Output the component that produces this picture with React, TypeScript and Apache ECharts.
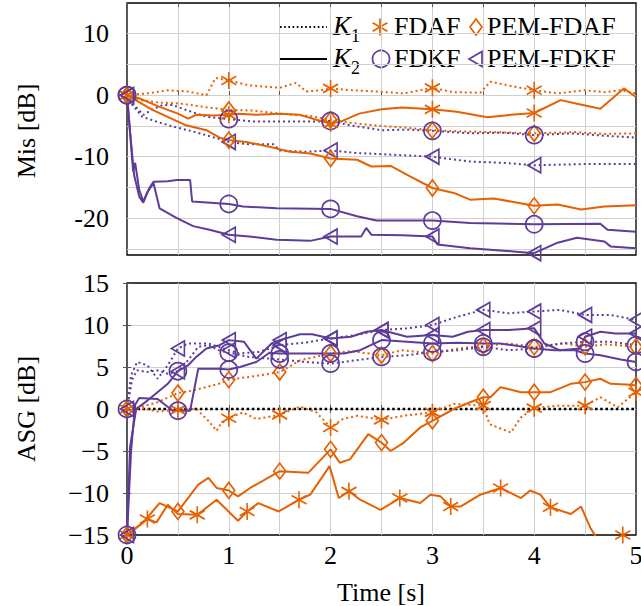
import React, { useEffect, useRef } from 'react';
import * as echarts from 'echarts';

type Pt = [number, number];

const ORANGE = '#e66101';
const PURPLE = '#5e3c99';
const GRID = '#d0d0d0';
const FONT = '"Liberation Serif", "Times New Roman", serif';

const xTickLabels = [0, 1, 2, 3, 4, 5];
const misTickLabels = [-20, -10, 0, 10];
const asgTickLabels = [-15, -10, -5, 0, 5, 10, 15];

const topMarkTimes = [0, 1, 2, 3, 4];
const halfMarkTimes = [0, 0.5, 1, 1.5, 2, 2.5, 3, 3.5, 4, 4.5, 5];
const asgFdafK2MarkTimes = [0, 0.2, 0.69, 1.18, 1.69, 2.18, 2.68, 3.18, 3.67, 4.16, 4.87];

// ---------------- Mis [dB] (top) ----------------
const misFdafK1: Pt[] = [[0,0],[0.2,0.3],[0.4,0.8],[0.6,0.6],[0.78,0.0],[0.87,2.8],[1.0,2.4],[1.2,1.6],[1.5,1.2],[1.66,2.0],[1.76,0.6],[1.9,0.8],[2.0,1.1],[2.2,0.8],[2.45,0.6],[2.72,0.3],[3.0,1.2],[3.2,0.5],[3.47,0.4],[3.57,2.2],[3.77,1.5],[4.0,0.8],[4.23,0.3],[4.49,0.8],[4.69,0.5],[4.85,0.8],[5.0,0.3]];
const misFdafK2: Pt[] = [[0,0],[0.12,-0.5],[0.32,-1.9],[0.5,-3.0],[0.6,-3.8],[0.68,-3.2],[0.85,-3.3],[1.0,-3.2],[1.1,-3.0],[1.27,-3.2],[1.5,-3.0],[1.7,-3.2],[1.86,-4.0],[2.0,-4.6],[2.1,-4.3],[2.28,-3.0],[2.5,-2.3],[2.7,-2.0],[3.0,-2.3],[3.24,-2.7],[3.54,-3.6],[3.77,-3.2],[4.0,-2.9],[4.26,-0.8],[4.42,-1.4],[4.65,-2.2],[4.88,1.1],[5.0,-0.3]];
const misPemFdafK1: Pt[] = [[0,0],[0.12,-0.8],[0.32,-1.2],[0.52,-1.35],[0.75,-1.9],[1.0,-2.4],[1.24,-2.5],[1.5,-3.0],[1.8,-3.4],[2.0,-4.0],[2.2,-4.5],[2.5,-5.0],[2.75,-5.3],[3.0,-5.7],[3.3,-5.9],[3.6,-6.0],[4.0,-6.2],[4.4,-6.0],[4.7,-6.3],[5.0,-6.2]];
const misPemFdafK2: Pt[] = [[0,0],[0.25,-2.4],[0.58,-4.9],[0.78,-5.7],[0.91,-6.9],[1.0,-7.3],[1.17,-7.6],[1.4,-8.4],[1.6,-9.2],[1.8,-9.5],[2.0,-10.3],[2.26,-10.5],[2.4,-11.6],[2.59,-11.5],[2.78,-13.2],[3.0,-15.1],[3.21,-15.9],[3.37,-17.0],[3.6,-16.8],[3.77,-17.3],[4.0,-18.0],[4.23,-17.8],[4.46,-18.6],[4.69,-18.1],[5.0,-17.9]];
const misFdkfK1: Pt[] = [[0,0],[0.06,-1.4],[0.16,-3.2],[0.25,-2.3],[0.35,-1.6],[0.45,-1.6],[0.58,-2.4],[0.78,-3.5],[1.0,-3.9],[1.24,-4.3],[1.53,-4.3],[1.86,-4.3],[2.0,-4.2],[2.19,-4.9],[2.5,-5.7],[2.75,-5.6],[3.0,-5.8],[3.37,-6.2],[3.7,-6.1],[4.0,-6.5],[4.36,-6.2],[4.7,-6.6],[5.0,-6.9]];
const misFdkfK2: Pt[] = [[0,0],[0.03,-6],[0.06,-12.4],[0.08,-11],[0.12,-15.4],[0.16,-17.3],[0.19,-16.2],[0.22,-15.1],[0.26,-14.1],[0.4,-14.0],[0.49,-13.8],[0.62,-13.8],[0.64,-17.3],[1.0,-17.7],[1.14,-18.1],[1.47,-18.4],[2.0,-18.5],[2.26,-19.7],[2.45,-20.4],[3.0,-20.4],[3.37,-20.8],[4.0,-21.0],[4.65,-20.9],[4.72,-21.9],[5.0,-22.2]];
const misPemFdkfK1: Pt[] = [[0,0],[0.05,-1.5],[0.15,-3.5],[0.29,-4.3],[0.45,-5.1],[0.65,-5.9],[0.84,-6.8],[1.0,-7.6],[1.2,-8.0],[1.44,-8.0],[1.5,-9.0],[1.75,-9.2],[2.0,-9.0],[2.25,-9.4],[2.5,-9.6],[2.75,-9.8],[3.0,-10.0],[3.37,-10.8],[3.7,-11.0],[4.0,-11.4],[4.5,-11.2],[5.0,-11.2]];
const misPemFdkfK2: Pt[] = [[0,0],[0.03,-6],[0.07,-13],[0.12,-16.5],[0.16,-17.5],[0.2,-15.8],[0.26,-14.3],[0.32,-18.4],[0.49,-20.0],[0.65,-21.3],[0.81,-21.9],[1.0,-22.7],[1.2,-23.0],[1.47,-23.5],[1.8,-23.7],[2.0,-23.0],[2.3,-23.0],[2.35,-21.6],[2.4,-22.7],[2.7,-22.8],[3.0,-23.0],[3.05,-24.3],[3.37,-24.9],[3.77,-25.4],[4.0,-25.7],[4.23,-24.0],[4.42,-23.2],[4.69,-23.8],[4.75,-24.6],[5.0,-24.9]];

// ---------------- ASG [dB] (bottom) ----------------
const asgFdafK1: Pt[] = [[0,0],[0.15,0.1],[0.3,-0.3],[0.5,-0.1],[0.68,0.0],[0.8,-1.4],[0.88,-2.6],[0.92,-1.8],[1.0,-1.1],[1.14,-0.4],[1.27,-1.2],[1.5,-0.7],[1.7,0.3],[1.86,-0.4],[2.0,-2.2],[2.12,-1.2],[2.26,-0.8],[2.5,-1.3],[2.72,-0.8],[3.0,-0.4],[3.21,0.6],[3.5,0.4],[3.56,-1.8],[3.77,-2.8],[3.87,-1.0],[4.0,0.1],[4.23,0.4],[4.5,0.4],[4.65,1.4],[4.82,0.2],[5.0,2.0]];
const asgFdafK2: Pt[] = [[0,-15],[0.2,-13.1],[0.29,-13.5],[0.4,-11.4],[0.5,-12.5],[0.69,-12.6],[0.88,-10.8],[1.09,-13.3],[1.18,-12.2],[1.29,-11.2],[1.49,-12.2],[1.69,-10.8],[1.8,-10.2],[1.99,-6.8],[2.08,-10.6],[2.18,-9.8],[2.29,-10.8],[2.49,-12.0],[2.68,-10.6],[2.88,-11.2],[2.98,-10.2],[3.08,-10.4],[3.18,-11.6],[3.28,-11.6],[3.47,-10.2],[3.67,-9.4],[3.87,-10.6],[3.96,-9.7],[4.06,-10.2],[4.16,-11.7],[4.36,-12.5],[4.46,-11.6],[4.55,-14.1],[4.62,-15.5],[4.75,-16.5],[4.87,-15.0],[5.0,-16.0]];
const asgPemFdafK1: Pt[] = [[0,0],[0.12,0.2],[0.3,0.8],[0.5,1.9],[0.65,2.2],[0.9,3.0],[1.0,3.5],[1.25,3.9],[1.5,4.4],[1.7,5.8],[2.0,6.6],[2.2,6.9],[2.5,6.4],[2.7,7.0],[3.0,6.6],[3.25,7.2],[3.5,7.5],[3.75,7.8],[4.0,7.4],[4.3,7.8],[4.5,7.4],[4.7,7.7],[5.0,7.4]];
const asgPemFdafK2: Pt[] = [[0,-15],[0.16,-13.5],[0.32,-11.2],[0.5,-12.2],[0.7,-9.0],[0.8,-8.2],[0.88,-9.4],[1.0,-9.7],[1.09,-10.4],[1.21,-9.4],[1.5,-7.4],[1.78,-7.6],[2.0,-4.8],[2.09,-6.4],[2.19,-6.0],[2.37,-3.0],[2.5,-4.0],[2.59,-5.0],[2.72,-4.0],[2.88,-2.2],[3.0,-1.4],[3.21,0.0],[3.37,0.8],[3.5,1.4],[3.57,1.4],[3.67,2.6],[3.87,2.0],[4.0,2.0],[4.16,2.0],[4.36,3.0],[4.5,3.2],[4.65,3.6],[4.75,3.0],[4.95,2.9],[5.0,2.8]];
const asgFdkfK1: Pt[] = [[0,0],[0.05,3.5],[0.1,4.6],[0.2,4.4],[0.3,4.6],[0.4,4.2],[0.5,4.5],[0.6,5.8],[0.7,7.4],[0.8,7.6],[0.9,7.0],[1.0,6.7],[1.2,6.2],[1.5,5.9],[1.75,5.6],[2.0,5.4],[2.25,5.8],[2.5,6.2],[2.75,6.4],[3.0,6.8],[3.25,7.0],[3.5,7.4],[3.75,7.0],[4.0,7.2],[4.25,7.8],[4.5,8.0],[4.75,8.0],[5.0,7.6]];
const asgFdkfK2: Pt[] = [[0,-15],[0.04,-5],[0.08,0.5],[0.12,1.3],[0.3,1.2],[0.45,-0.2],[0.5,-0.2],[0.62,-0.2],[0.7,4.8],[0.9,4.8],[1.0,4.7],[1.11,5.0],[1.27,5.6],[1.4,6.7],[1.5,6.6],[1.8,6.6],[2.0,6.6],[2.13,6.6],[2.29,7.0],[2.5,8.2],[2.75,8.0],[3.0,7.8],[3.25,7.9],[3.5,7.8],[3.67,7.8],[4.0,7.2],[4.2,7.0],[4.4,7.0],[4.5,6.6],[4.65,6.4],[4.85,5.9],[5.0,5.6]];
const asgPemFdkfK1: Pt[] = [[0,0],[0.04,4.0],[0.1,5.6],[0.2,5.2],[0.3,3.6],[0.4,5.2],[0.5,7.2],[0.6,7.8],[0.8,7.8],[0.9,7.4],[1.0,7.0],[1.1,6.6],[1.3,6.8],[1.5,7.6],[1.75,7.9],[2.0,8.4],[2.25,8.8],[2.5,9.4],[2.75,9.6],[3.0,10.0],[3.25,11.0],[3.5,11.8],[3.75,11.4],[4.0,11.6],[4.25,11.8],[4.5,11.2],[4.75,11.2],[5.0,10.6]];
const asgPemFdkfK2: Pt[] = [[0,-15],[0.03,-4.5],[0.09,0],[0.2,1.0],[0.3,2.0],[0.4,3.0],[0.5,4.5],[0.6,5.2],[0.68,6.2],[0.78,7.2],[0.91,7.6],[1.0,8.2],[1.15,8.0],[1.27,6.0],[1.42,7.8],[1.5,8.2],[1.7,8.9],[1.82,8.9],[2.0,8.4],[2.2,8.6],[2.35,9.2],[2.5,9.4],[2.75,8.6],[3.0,8.8],[3.2,8.6],[3.35,9.2],[3.5,9.4],[3.75,9.4],[4.0,9.6],[4.1,7.8],[4.25,7.0],[4.45,7.2],[4.5,8.6],[4.65,9.2],[4.8,9.0],[5.0,9.0]];
const asgZeroLine: Pt[] = [[0,0],[5,0]];

const SYM_ASTERISK = 'path://M0,-10L0,10M-8.66,-5L8.66,5M-8.66,5L8.66,-5';
const SYM_DIAMOND = 'path://M0,-10L7.5,0L0,10L-7.5,0Z';
const SYM_TRIANGLE = 'path://M-10,0L5,-8.66L5,8.66Z';

const SYMS: Record<string, { symbol: string; size: number | number[] }> = {
  FDAF: { symbol: SYM_ASTERISK, size: [15, 17] },
  'PEM-FDAF': { symbol: SYM_DIAMOND, size: [12, 16] },
  FDKF: { symbol: 'circle', size: 17 },
  'PEM-FDKF': { symbol: SYM_TRIANGLE, size: [13, 15] },
};

function mkSeries(name: string, algo: string, data: Pt[], marks: number[], color: string, dotted: boolean, panel: number) {
  const s = SYMS[algo];
  return {
    type: 'line',
    name,
    xAxisIndex: panel === 0 ? 0 : 2,
    yAxisIndex: panel === 0 ? 0 : 1,
    data: data.map((p) =>
      marks.some((m) => Math.abs(m - p[0]) < 1e-6) ? { value: p } : { value: p, symbol: 'none' }
    ),
    symbol: s.symbol,
    symbolSize: s.size,
    showSymbol: true,
    showAllSymbol: true,
    clip: true,
    silent: true,
    lineStyle: { color, width: 2, type: dotted ? [2, 3] : 'solid', cap: 'butt' },
    itemStyle: { color: 'rgba(0,0,0,0)', borderColor: color, borderWidth: 1.7 },
    emphasis: { disabled: true },
  };
}

const T = 'rgba(0,0,0,0)';

function txt(text: string, x: number, y: number, size = 26, extra: any = {}) {
  return {
    type: 'text',
    x,
    y,
    silent: true,
    ...extra,
    style: {
      text,
      fill: '#000',
      font: `${extra.italic ? 'italic ' : ''}${size}px ${FONT}`,
      textAlign: extra.align || 'left',
      align: extra.align || 'left',
      textVerticalAlign: 'middle',
      verticalAlign: 'middle',
    },
  };
}

export default function App() {
  const ref = useRef<HTMLDivElement>(null);
  useEffect(() => {
    document.body.style.margin = '0';
    if (!ref.current) return;
    const chart = echarts.init(ref.current, undefined, { renderer: 'svg' });

    const xBase = (gridIndex: number, labels: boolean, top: boolean) => ({
      type: 'value',
      gridIndex,
      position: top ? 'top' : 'bottom',
      min: 0,
      max: 5,
      interval: 0.5,
      axisLine: { show: false },
      axisTick: { show: true, inside: true, length: 4, lineStyle: { color: '#555', width: 1 } },
      axisLabel: {
        show: labels,
        fontSize: 26,
        color: '#000',
        fontFamily: FONT,
        margin: 7,
        formatter: (v: number) => (xTickLabels.includes(v) ? String(v) : ''),
      },
      splitLine: top
        ? { show: false }
        : { show: true, showMinLine: false, showMaxLine: false, lineStyle: { color: GRID, width: 1 } },
    });

    const option: any = {
      animation: false,
      textStyle: { fontFamily: FONT },
      grid: [
        { left: 127, top: 3, width: 509, height: 252, show: true, borderColor: '#000', borderWidth: 1.3, backgroundColor: T, outerBoundsMode: 'none', containLabel: false },
        { left: 127, top: 283, width: 509, height: 252, show: true, borderColor: '#000', borderWidth: 1.3, backgroundColor: T, outerBoundsMode: 'none', containLabel: false },
      ],
      xAxis: [xBase(0, false, false), xBase(0, false, true), xBase(1, true, false), xBase(1, false, true)],
      yAxis: [
        {
          type: 'value',
          gridIndex: 0,
          min: -26,
          max: 15,
          interval: 1,
          axisLine: { show: false },
          axisTick: { show: false },
          axisLabel: {
            fontSize: 26,
            color: '#000',
            fontFamily: FONT,
            margin: 18,
            formatter: (v: number) => (misTickLabels.includes(v) ? (v < 0 ? '-' + Math.abs(v) : String(v)) : ''),
          },
          splitLine: { show: true, showMaxLine: false, lineStyle: { color: [T, GRID, T, T, T], width: 1 } },
        },
        {
          type: 'value',
          gridIndex: 1,
          min: -15,
          max: 15,
          interval: 5,
          axisLine: { show: false },
          axisTick: { show: true, inside: true, length: 4, lineStyle: { color: '#555', width: 1 } },
          axisLabel: {
            fontSize: 26,
            color: '#000',
            fontFamily: FONT,
            margin: 18,
            formatter: (v: number) => (asgTickLabels.includes(v) ? (v < 0 ? '\u2212' + Math.abs(v) : String(v)) : ''),
          },
          splitLine: { show: true, showMinLine: false, showMaxLine: false, lineStyle: { color: GRID, width: 1 } },
        },
        {
          type: 'value',
          gridIndex: 1,
          position: 'right',
          min: -15,
          max: 15,
          interval: 5,
          axisLine: { show: false },
          axisTick: { show: true, inside: true, length: 4, lineStyle: { color: '#555', width: 1 } },
          axisLabel: { show: false },
          splitLine: { show: false },
        },
      ],
      series: [
        {
          type: 'line',
          name: 'zero',
          xAxisIndex: 2,
          yAxisIndex: 1,
          data: asgZeroLine,
          symbol: 'none',
          silent: true,
          lineStyle: { color: '#000', width: 2.6, type: [2.6, 2.6] },
        },
        // top panel
        mkSeries('FDAF K1', 'FDAF', misFdafK1, topMarkTimes, ORANGE, true, 0),
        mkSeries('PEM-FDAF K1', 'PEM-FDAF', misPemFdafK1, topMarkTimes, ORANGE, true, 0),
        mkSeries('FDKF K1', 'FDKF', misFdkfK1, topMarkTimes, PURPLE, true, 0),
        mkSeries('PEM-FDKF K1', 'PEM-FDKF', misPemFdkfK1, topMarkTimes, PURPLE, true, 0),
        mkSeries('FDAF K2', 'FDAF', misFdafK2, topMarkTimes, ORANGE, false, 0),
        mkSeries('PEM-FDAF K2', 'PEM-FDAF', misPemFdafK2, topMarkTimes, ORANGE, false, 0),
        mkSeries('FDKF K2', 'FDKF', misFdkfK2, topMarkTimes, PURPLE, false, 0),
        mkSeries('PEM-FDKF K2', 'PEM-FDKF', misPemFdkfK2, topMarkTimes, PURPLE, false, 0),
        // bottom panel
        mkSeries('FDAF K1 ', 'FDAF', asgFdafK1, halfMarkTimes, ORANGE, true, 1),
        mkSeries('PEM-FDAF K1 ', 'PEM-FDAF', asgPemFdafK1, halfMarkTimes, ORANGE, true, 1),
        mkSeries('FDKF K1 ', 'FDKF', asgFdkfK1, halfMarkTimes, PURPLE, true, 1),
        mkSeries('PEM-FDKF K1 ', 'PEM-FDKF', asgPemFdkfK1, halfMarkTimes, PURPLE, true, 1),
        mkSeries('FDAF K2 ', 'FDAF', asgFdafK2, asgFdafK2MarkTimes, ORANGE, false, 1),
        mkSeries('PEM-FDAF K2 ', 'PEM-FDAF', asgPemFdafK2, halfMarkTimes, ORANGE, false, 1),
        mkSeries('FDKF K2 ', 'FDKF', asgFdkfK2, halfMarkTimes, PURPLE, false, 1),
        mkSeries('PEM-FDKF K2 ', 'PEM-FDKF', asgPemFdkfK2, halfMarkTimes, PURPLE, false, 1),
      ],
      graphic: [
        // axis names
        txt('Mis [dB]', 26, 131, 26, { rotation: Math.PI / 2, align: 'center' }),
        txt('ASG [dB]', 26, 409, 26, { rotation: Math.PI / 2, align: 'center' }),
        txt('Time [s]', 381, 592, 26, { align: 'center' }),
        // legend row 1
        { type: 'line', silent: true, shape: { x1: 280, y1: 27, x2: 327, y2: 27 }, style: { stroke: '#000', lineWidth: 2, lineDash: [1.6, 2.6] } },
        txt('K', 333, 26, 27, { italic: true }),
        txt('1', 351, 36, 18),
        { type: 'line', silent: true, shape: { x1: 380, y1: 18.5, x2: 380, y2: 35.5 }, style: { stroke: ORANGE, lineWidth: 1.7 } },
        { type: 'line', silent: true, shape: { x1: 372.6, y1: 22.75, x2: 387.4, y2: 31.25 }, style: { stroke: ORANGE, lineWidth: 1.7 } },
        { type: 'line', silent: true, shape: { x1: 372.6, y1: 31.25, x2: 387.4, y2: 22.75 }, style: { stroke: ORANGE, lineWidth: 1.7 } },
        txt('FDAF', 394, 26),
        { type: 'polygon', silent: true, shape: { points: [[476, 19], [482, 27], [476, 35], [470, 27]] }, style: { fill: 'none', stroke: ORANGE, lineWidth: 1.7 } },
        txt('PEM-FDAF', 487, 26),
        // legend row 2
        { type: 'line', silent: true, shape: { x1: 280, y1: 59, x2: 327, y2: 59 }, style: { stroke: '#000', lineWidth: 2 } },
        txt('K', 333, 58, 27, { italic: true }),
        txt('2', 351, 68, 18),
        { type: 'circle', silent: true, shape: { cx: 381, cy: 59, r: 8.5 }, style: { fill: 'none', stroke: PURPLE, lineWidth: 1.7 } },
        txt('FDKF', 394, 58),
        { type: 'polygon', silent: true, shape: { points: [[469, 59], [482, 51.5], [482, 66.5]] }, style: { fill: 'none', stroke: PURPLE, lineWidth: 1.7 } },
        txt('PEM-FDKF', 487, 58),
      ],
    };

    chart.setOption(option);
    return () => chart.dispose();
  }, []);

  return <div ref={ref} style={{ width: 641, height: 606 }} />;
}
